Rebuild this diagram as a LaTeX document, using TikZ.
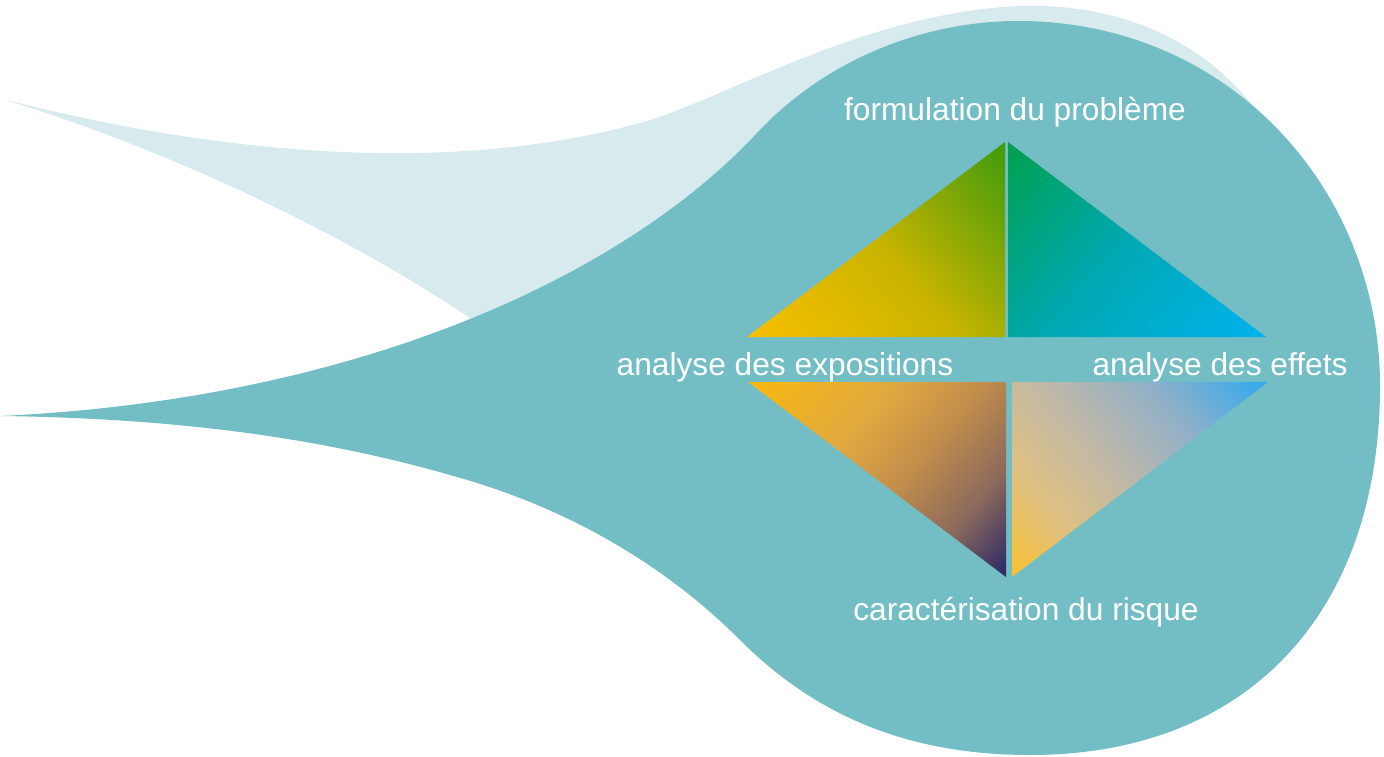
\documentclass[tikz,border=0pt]{standalone}
\usepackage{fontspec}
\setmainfont{Liberation Sans}

% blob colours
\definecolor{blobteal}{HTML}{73BEC4}
\definecolor{blobpale}{HTML}{D7EBEE}

% triangle colours
\definecolor{tlA}{HTML}{F8BF00}
\definecolor{tlB}{HTML}{C9B400}
\definecolor{tlC}{HTML}{3F9B0C}
\definecolor{trA}{HTML}{00A04E}
\definecolor{trB}{HTML}{00A8B2}
\definecolor{trC}{HTML}{00B2EE}
\definecolor{blA}{HTML}{F8B810}
\definecolor{blB}{HTML}{E0A840}
\definecolor{blC}{HTML}{C08C4C}
\definecolor{blD}{HTML}{8C6A5C}
\definecolor{blE}{HTML}{2A2868}
\definecolor{brA}{HTML}{F8C030}
\definecolor{brB}{HTML}{E0C080}
\definecolor{brC}{HTML}{C0B8A8}
\definecolor{brD}{HTML}{90B0C8}
\definecolor{brE}{HTML}{30AAF0}

\pgfdeclarehorizontalshading{tlshade}{100bp}{color(0bp)=(tlA); color(15bp)=(tlA); color(50bp)=(tlB); color(85bp)=(tlC); color(100bp)=(tlC)}
\pgfdeclarehorizontalshading{trshade}{100bp}{color(0bp)=(trA); color(15bp)=(trA); color(48bp)=(trB); color(85bp)=(trC); color(100bp)=(trC)}
\pgfdeclarehorizontalshading{blshade}{100bp}{color(0bp)=(blA); color(15bp)=(blA); color(40bp)=(blB); color(55bp)=(blC); color(70bp)=(blD); color(85bp)=(blE); color(100bp)=(blE)}
\pgfdeclarehorizontalshading{brshade}{100bp}{color(0bp)=(brA); color(15bp)=(brA); color(30bp)=(brB); color(47bp)=(brC); color(65bp)=(brD); color(85bp)=(brE); color(100bp)=(brE)}

\begin{document}
\begin{tikzpicture}[x=1pt,y=-1pt,
  lab/.style={text=white, font=\fontsize{31.7}{38}\selectfont, inner sep=0pt, anchor=base}]
\useasboundingbox (0,0) rectangle (1384,757);

% pale back tail (its right end tucks under the teal head)
\fill[blobpale] (3,99)
  .. controls (220,155) and (450,175) .. (640,123)
  .. controls (720,101) and (850,20) .. (1002,7)
  .. controls (1100,-1) and (1200,30) .. (1262,118)
  -- (1000,400) -- (540,368)
  .. controls (400,260) and (200,160) .. (3,99) -- cycle;

% main teal head and tail
\fill[blobteal] (0,416)
  .. controls (350,400) and (620,280) .. (757,133)
  .. controls (830,55) and (930,21) .. (1018,21)
  .. controls (1230,21) and (1380,190) .. (1380,386)
  .. controls (1380,610) and (1250,755) .. (1030,755)
  .. controls (900,755) and (810,710) .. (740,640)
  .. controls (660,560) and (560,505) .. (450,475)
  .. controls (300,432) and (150,418) .. (0,416) -- cycle;

% the four graded triangles
\shade[shading=tlshade, shading angle=40]  (747,337) -- (1005,337) -- (1005,142) -- cycle;
\shade[shading=trshade, shading angle=-40] (1008,142) -- (1008,337) -- (1266,337) -- cycle;
\shade[shading=blshade, shading angle=-40] (748,382) -- (1006,382) -- (1006,577) -- cycle;
\shade[shading=brshade, shading angle=40]  (1012,382) -- (1268,382) -- (1012,577) -- cycle;

% labels
\node[lab] (formul) at (1015,121) {formulation du problème};
\node[lab] (expo)   at (785,375)  {analyse des expositions};
\node[lab] (effets) at (1220,375) {analyse des effets};
\node[lab] (risque) at (1026,620) {caractérisation du risque};
\end{tikzpicture}
\end{document}
